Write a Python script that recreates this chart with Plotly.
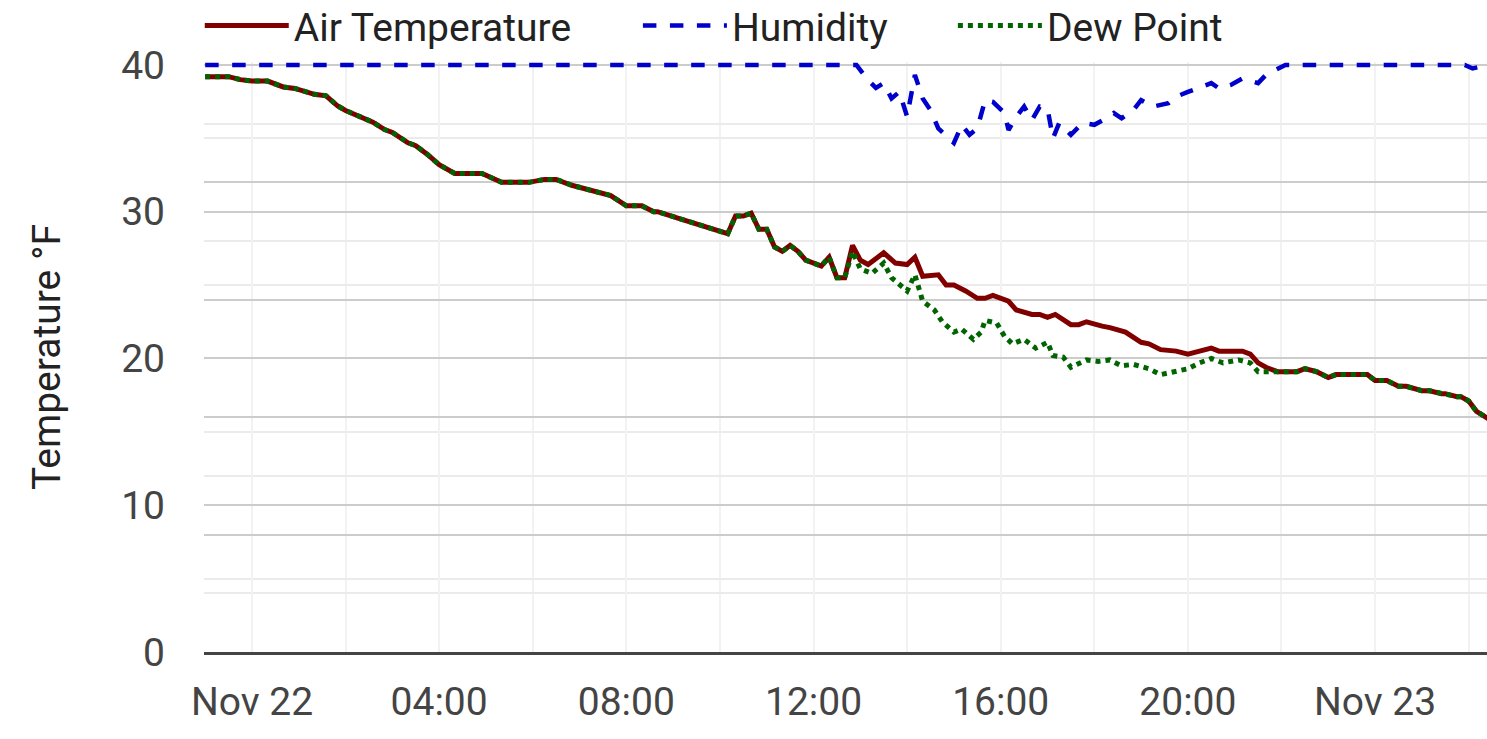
import plotly.graph_objects as go

# air temperature (°F)
temp_time = [
    "2023-11-21 23:00", "2023-11-21 23:30", "2023-11-21 23:45", "2023-11-22 00:00",
    "2023-11-22 00:20", "2023-11-22 00:40", "2023-11-22 00:55", "2023-11-22 01:20",
    "2023-11-22 01:35", "2023-11-22 01:50", "2023-11-22 02:00", "2023-11-22 02:20",
    "2023-11-22 02:35", "2023-11-22 02:50", "2023-11-22 03:00", "2023-11-22 03:20",
    "2023-11-22 03:30", "2023-11-22 03:45", "2023-11-22 04:00", "2023-11-22 04:20",
    "2023-11-22 04:55", "2023-11-22 05:20", "2023-11-22 05:55", "2023-11-22 06:15",
    "2023-11-22 06:30", "2023-11-22 06:50", "2023-11-22 07:10", "2023-11-22 07:20",
    "2023-11-22 07:40", "2023-11-22 08:00", "2023-11-22 08:20", "2023-11-22 08:35",
    "2023-11-22 08:40", "2023-11-22 09:10", "2023-11-22 09:40", "2023-11-22 09:50",
    "2023-11-22 10:10", "2023-11-22 10:20", "2023-11-22 10:30", "2023-11-22 10:40",
    "2023-11-22 10:50", "2023-11-22 11:00", "2023-11-22 11:10", "2023-11-22 11:20",
    "2023-11-22 11:30", "2023-11-22 11:40", "2023-11-22 11:50", "2023-11-22 12:10",
    "2023-11-22 12:20", "2023-11-22 12:30", "2023-11-22 12:40", "2023-11-22 12:50",
    "2023-11-22 13:00", "2023-11-22 13:10", "2023-11-22 13:30", "2023-11-22 13:45",
    "2023-11-22 14:00", "2023-11-22 14:10", "2023-11-22 14:20", "2023-11-22 14:40",
    "2023-11-22 14:50", "2023-11-22 15:00", "2023-11-22 15:15", "2023-11-22 15:30",
    "2023-11-22 15:40", "2023-11-22 15:50", "2023-11-22 16:10", "2023-11-22 16:20",
    "2023-11-22 16:40", "2023-11-22 16:50", "2023-11-22 17:00", "2023-11-22 17:10",
    "2023-11-22 17:30", "2023-11-22 17:40", "2023-11-22 17:50", "2023-11-22 18:10",
    "2023-11-22 18:20", "2023-11-22 18:40", "2023-11-22 19:00", "2023-11-22 19:10",
    "2023-11-22 19:25", "2023-11-22 19:45", "2023-11-22 20:00", "2023-11-22 20:15",
    "2023-11-22 20:30", "2023-11-22 20:40", "2023-11-22 21:10", "2023-11-22 21:20",
    "2023-11-22 21:30", "2023-11-22 21:40", "2023-11-22 21:55", "2023-11-22 22:20",
    "2023-11-22 22:30", "2023-11-22 22:45", "2023-11-22 23:00", "2023-11-22 23:10",
    "2023-11-22 23:50", "2023-11-23 00:00", "2023-11-23 00:15", "2023-11-23 00:30",
    "2023-11-23 00:40", "2023-11-23 01:00", "2023-11-23 01:10", "2023-11-23 01:25",
    "2023-11-23 01:30", "2023-11-23 01:45", "2023-11-23 01:50", "2023-11-23 02:00",
    "2023-11-23 02:10", "2023-11-23 02:25",
]
temp_f = [
    39.2, 39.2, 39.0, 38.9, 38.9, 38.5, 38.4, 38.0, 37.9, 37.2, 36.9, 36.4,
    36.1, 35.6, 35.4, 34.7, 34.5, 33.9, 33.2, 32.6, 32.6, 32.0, 32.0, 32.2,
    32.2, 31.8, 31.5, 31.4, 31.1, 30.4, 30.4, 30.0, 30.0, 29.5, 29.0, 28.9,
    28.5, 29.7, 29.7, 29.9, 28.8, 28.8, 27.6, 27.3, 27.7, 27.3, 26.7, 26.3,
    26.9, 25.5, 25.5, 27.7, 26.7, 26.4, 27.2, 26.5, 26.4, 26.9, 25.6, 25.7,
    25.0, 25.0, 24.6, 24.1, 24.1, 24.3, 23.9, 23.3, 23.0, 23.0, 22.8, 23.0,
    22.3, 22.3, 22.5, 22.2, 22.1, 21.8, 21.1, 21.0, 20.6, 20.5, 20.3, 20.5,
    20.7, 20.5, 20.5, 20.3, 19.7, 19.4, 19.1, 19.1, 19.3, 19.1, 18.7, 18.9,
    18.9, 18.5, 18.5, 18.1, 18.1, 17.8, 17.8, 17.6, 17.6, 17.4, 17.4, 17.1,
    16.4, 15.9,
]

# dew point (°F) - same as air temperature except through the afternoon
dew_time = temp_time[:51] + [
    "2023-11-22 12:50", "2023-11-22 13:00", "2023-11-22 13:15", "2023-11-22 13:30",
    "2023-11-22 13:40", "2023-11-22 13:50", "2023-11-22 14:00", "2023-11-22 14:10",
    "2023-11-22 14:15", "2023-11-22 14:20", "2023-11-22 14:35", "2023-11-22 14:45",
    "2023-11-22 15:00", "2023-11-22 15:10", "2023-11-22 15:25", "2023-11-22 15:35",
    "2023-11-22 15:40", "2023-11-22 15:55", "2023-11-22 16:05", "2023-11-22 16:15",
    "2023-11-22 16:30", "2023-11-22 16:45", "2023-11-22 17:00", "2023-11-22 17:07",
    "2023-11-22 17:20", "2023-11-22 17:30", "2023-11-22 17:50", "2023-11-22 18:05",
    "2023-11-22 18:20", "2023-11-22 18:35", "2023-11-22 18:50", "2023-11-22 19:10",
    "2023-11-22 19:25", "2023-11-22 19:40", "2023-11-22 20:00", "2023-11-22 20:15",
    "2023-11-22 20:30", "2023-11-22 20:45", "2023-11-22 21:05", "2023-11-22 21:20",
    "2023-11-22 21:30",
] + temp_time[90:]
dew_f = temp_f[:51] + [
    27.3, 26.1, 25.8, 26.5, 25.5, 25.0, 24.6, 25.7, 24.8, 23.9, 23.3, 22.5,
    21.8, 22.0, 21.3, 21.8, 22.6, 22.4, 21.5, 21.0, 21.3, 20.7, 21.1, 20.2,
    20.1, 19.4, 19.9, 19.8, 19.9, 19.5, 19.6, 19.3, 18.9, 19.1, 19.3, 19.7,
    20.0, 19.7, 19.9, 19.7, 19.1,
] + temp_f[90:]

# relative humidity (%), right axis
hum_time = [
    "2023-11-21 23:00", "2023-11-22 12:55", "2023-11-22 13:10", "2023-11-22 13:20",
    "2023-11-22 13:30", "2023-11-22 13:40", "2023-11-22 13:50", "2023-11-22 14:00",
    "2023-11-22 14:10", "2023-11-22 14:20", "2023-11-22 14:30", "2023-11-22 14:40",
    "2023-11-22 15:00", "2023-11-22 15:10", "2023-11-22 15:20", "2023-11-22 15:30",
    "2023-11-22 15:40", "2023-11-22 15:50", "2023-11-22 16:05", "2023-11-22 16:10",
    "2023-11-22 16:20", "2023-11-22 16:30", "2023-11-22 16:40", "2023-11-22 16:50",
    "2023-11-22 17:00", "2023-11-22 17:07", "2023-11-22 17:15", "2023-11-22 17:30",
    "2023-11-22 17:45", "2023-11-22 18:00", "2023-11-22 18:15", "2023-11-22 18:25",
    "2023-11-22 18:35", "2023-11-22 18:50", "2023-11-22 19:00", "2023-11-22 19:15",
    "2023-11-22 19:35", "2023-11-22 19:45", "2023-11-22 20:00", "2023-11-22 20:30",
    "2023-11-22 20:40", "2023-11-22 20:55", "2023-11-22 21:10", "2023-11-22 21:30",
    "2023-11-22 21:40", "2023-11-22 21:55", "2023-11-22 22:05", "2023-11-23 01:55",
    "2023-11-23 02:05", "2023-11-23 02:25",
]
hum_pct = [
    100, 100, 97.4, 96.1, 96.9, 94.3, 95.4, 91.2, 98.3, 94.3, 92.3, 89.2,
    86.7, 89.8, 88.1, 89.2, 94.0, 93.7, 91.8, 88.9, 91.2, 92.9, 90.6, 92.9,
    92.6, 87.5, 90.1, 88.1, 90.1, 89.8, 90.9, 91.8, 90.9, 92.3, 94.0, 92.9,
    93.5, 94.6, 95.4, 96.9, 96.0, 96.6, 97.7, 96.9, 98.3, 99.4, 100, 100,
    99.4, 100,
]

tick_vals = ["2023-11-22 00:00", "2023-11-22 04:00", "2023-11-22 08:00", "2023-11-22 12:00",
             "2023-11-22 16:00", "2023-11-22 20:00", "2023-11-23 00:00"]
tick_text = ["Nov 22", "04:00", "08:00", "12:00", "16:00", "20:00", "Nov 23"]

font = "Roboto, sans-serif"

fig = go.Figure()
fig.add_trace(go.Scatter(x=temp_time, y=temp_f, name="Air Temperature", mode="lines",
                         line=dict(color="#800000", width=5), legend="legend"))
fig.add_trace(go.Scatter(x=hum_time, y=hum_pct, name="Humidity", mode="lines", yaxis="y2",
                         line=dict(color="#0000cc", width=4.5, dash="dash"), legend="legend2"))
fig.add_trace(go.Scatter(x=dew_time, y=dew_f, name="Dew Point", mode="lines",
                         line=dict(color="#006400", width=5, dash="dot"), legend="legend3"))

leg = dict(orientation="h", yanchor="middle", y=1.0617, xanchor="left",
           font=dict(family=font, size=39, color="#222"), itemwidth=84,
           bgcolor="rgba(0,0,0,0)")

fig.update_layout(
    width=1487, height=739,
    margin=dict(l=204, r=0, t=62, b=87, autoexpand=False),
    plot_bgcolor="white", paper_bgcolor="white",
    font=dict(family=font, size=39, color="#444"),
    showlegend=True,
    legend=dict(leg, x=-0.0033),
    legend2=dict(leg, x=0.3382),
    legend3=dict(leg, x=0.5837),
    xaxis=dict(
        type="date", range=["2023-11-21 22:58:30", "2023-11-23 02:23:30"],
        tickmode="array", tickvals=tick_vals, ticktext=tick_text,
        showgrid=True, gridcolor="#f2f2f2", gridwidth=2,
        minor=dict(dtick=7200000, tick0="2023-11-22", showgrid=True, gridcolor="#f2f2f2", gridwidth=2),
        showline=True, linecolor="#444", linewidth=3,
        ticks="", ticklabelstandoff=13, zeroline=False,
    ),
    yaxis=dict(
        range=[0, 40.2], dtick=10, tick0=0,
        showgrid=True, gridcolor="#cccccc", gridwidth=2,
        minor=dict(dtick=5, showgrid=True, gridcolor="#ebebeb", gridwidth=2),
        zeroline=False, ticks="", ticklabelstandoff=38,
        title=dict(text="Temperature °F", font=dict(family=font, size=39, color="#222"), standoff=48),
    ),
    yaxis2=dict(
        range=[0, 100.5], dtick=20, tick0=0, overlaying="y", side="right",
        showgrid=True, gridcolor="#cccccc", gridwidth=2,
        minor=dict(dtick=10, showgrid=True, gridcolor="#ebebeb", gridwidth=2),
        showticklabels=False, zeroline=False, ticks="",
    ),
)

# drop the default page margin so the 1487x739 figure fills the window exactly
fig.write_html("out.html", config={"displayModeBar": False},
               post_script="document.body.style.margin='0';document.body.style.overflow='hidden';")
